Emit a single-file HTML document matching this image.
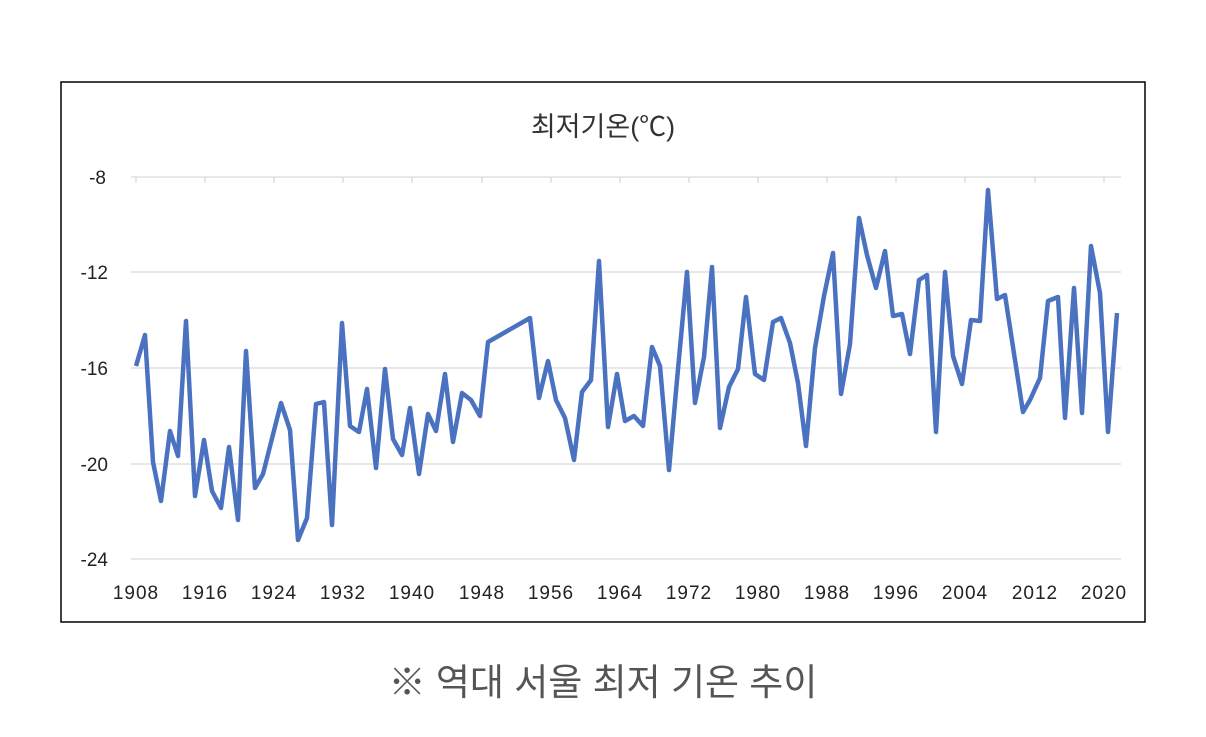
<!DOCTYPE html>
<html><head><meta charset="utf-8"><style>
body{margin:0;background:#fff;width:1206px;height:732px;overflow:hidden}
</style></head><body>
<svg width="1206" height="732" xmlns="http://www.w3.org/2000/svg" style="font-family:'Liberation Sans','Noto Sans CJK KR',sans-serif">
<rect x="61" y="82" width="1084" height="540" fill="#fff" stroke="#000" stroke-width="1.5"/>
<text x="603" y="136" font-size="27" text-anchor="middle" fill="#333">최저기온(℃)</text>
<g stroke="#d9d9d9" stroke-width="1.3">
<line x1="131" y1="177" x2="1121" y2="177"/>
<line x1="131" y1="272" x2="1121" y2="272"/>
<line x1="131" y1="368" x2="1121" y2="368"/>
<line x1="131" y1="464" x2="1121" y2="464"/>
<line x1="131" y1="559" x2="1121" y2="559"/>
</g>
<g stroke="#d9d9d9" stroke-width="1.3">
<line x1="136" y1="177" x2="136" y2="183"/><line x1="205" y1="177" x2="205" y2="183"/><line x1="274" y1="177" x2="274" y2="183"/><line x1="343" y1="177" x2="343" y2="183"/><line x1="412" y1="177" x2="412" y2="183"/><line x1="482" y1="177" x2="482" y2="183"/><line x1="551" y1="177" x2="551" y2="183"/><line x1="620" y1="177" x2="620" y2="183"/><line x1="689" y1="177" x2="689" y2="183"/><line x1="758" y1="177" x2="758" y2="183"/><line x1="827" y1="177" x2="827" y2="183"/><line x1="896" y1="177" x2="896" y2="183"/><line x1="965" y1="177" x2="965" y2="183"/><line x1="1035" y1="177" x2="1035" y2="183"/><line x1="1104" y1="177" x2="1104" y2="183"/>
</g>
<g font-size="19" fill="#222" text-anchor="end">
<text x="106" y="184">-8</text><text x="108" y="279">-12</text><text x="108" y="375">-16</text><text x="108" y="471">-20</text><text x="108" y="566">-24</text>
</g>
<g font-size="19" fill="#222" text-anchor="middle" letter-spacing="1">
<text x="136" y="599">1908</text><text x="205" y="599">1916</text><text x="274" y="599">1924</text><text x="343" y="599">1932</text><text x="412" y="599">1940</text><text x="482" y="599">1948</text><text x="551" y="599">1956</text><text x="620" y="599">1964</text><text x="689" y="599">1972</text><text x="758" y="599">1980</text><text x="827" y="599">1988</text><text x="896" y="599">1996</text><text x="965" y="599">2004</text><text x="1035" y="599">2012</text><text x="1104" y="599">2020</text>
</g>
<polyline fill="none" stroke="#4a72c0" stroke-width="4.5" stroke-linejoin="round" points="136,366 145,335 153,462 161,501 170,431 178,456 186,321 195,496 204,440 212,491 221,508 229,447 238,520 246,351 255,488 263,474 281,403 290,430 298,540 307,518 316,404 324,402 332,525 342,323 350,426 359,432 367,389 376,468 385,369 393,439 402,455 410,408 419,474 428,414 436,431 445,374 453,442 462,393 471,400 480,416 488,342 530,318 539,398 548,361 556,400 565,418 574,460 582,392 591,380 599,261 608,427 617,374 625,421 634,416 643,426 652,347 660,366 669,470 677,380 687,272 695,403 704,357 712,267 720,428 729,387 738,369 746,297 755,374 764,380 773,322 781,318 790,343 798,383 806,446 815,348 824,296 833,253 841,394 850,344 859,218 867,255 876,288 885,251 893,316 902,314 910,354 919,280 927,275 936,432 945,272 953,356 962,384 971,320 980,321 988,190 997,299 1005,295 1023,412 1030,400 1040,378 1048,301 1058,297 1065,418 1074,288 1082,413 1091,246 1100,293 1108,432 1117,313"/>
<text x="603" y="695" font-size="37" text-anchor="middle" fill="#555">※ 역대 서울 최저 기온 추이</text>
</svg>
</body></html>
